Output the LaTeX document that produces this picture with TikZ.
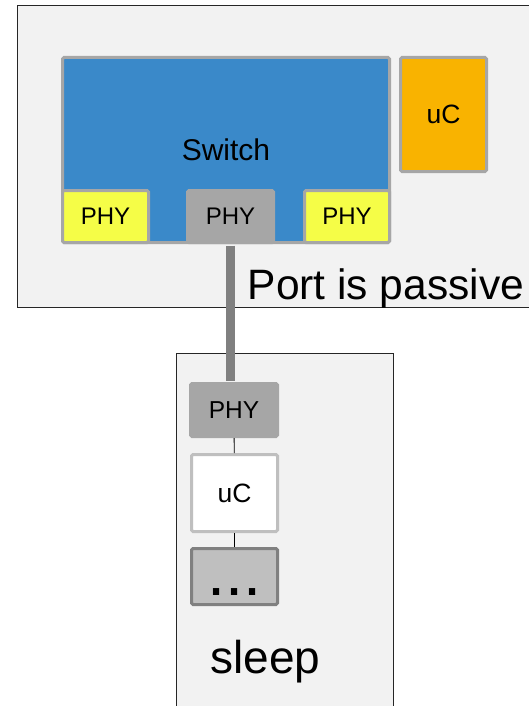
\documentclass[tikz,border=0pt]{standalone}
\usepackage{fontspec}
\setmainfont{Liberation Sans}
\usetikzlibrary{positioning, calc}

\definecolor{boardgray}{HTML}{F2F2F2}
\definecolor{swblue}{HTML}{3A89C9}
\definecolor{chipgray}{HTML}{A6A6A6}
\definecolor{ucorange}{HTML}{F9B300}
\definecolor{phyyellow}{HTML}{F5FD47}
\definecolor{busgray}{HTML}{808080}
\definecolor{lightgray}{HTML}{BFBFBF}

\newcommand{\fsz}[1]{\fontsize{#1}{#1}\selectfont}

\begin{document}
\begin{tikzpicture}[
    x=1pt, y=-1pt,
    board/.style={draw=black!85, line width=1pt, fill=boardgray, inner sep=0pt, anchor=north west},
    chip/.style={draw=chipgray, line width=3pt, rounded corners=1.5pt, inner sep=2pt, font=\fsz{24}},
    phy/.style={chip, fill=phyyellow, minimum width=86pt, minimum height=52pt},
    phyact/.style={phy, fill=chipgray},
    bus/.style={busgray, line width=9pt, shorten <=1.5pt, shorten >=1.5pt},
    wire/.style={black, line width=0.9pt},
    caption/.style={inner sep=0pt, anchor=base west},
]
\useasboundingbox (0,0) rectangle (529,706);
\clip (0,0) rectangle (529,706);

% ── Boards ──
\node[board, minimum width=530pt, minimum height=302pt] (swBoard) at (17,5) {};
\node[board, minimum width=217pt, minimum height=370pt] (devBoard) at (175.5,353) {};

% ── Switch side ──
\node[chip, fill=swblue, minimum width=327pt, minimum height=185pt, font=\fsz{30}] (switch) at (226,150) {Switch};
\node[chip, fill=ucorange, minimum width=86pt, minimum height=114pt, font=\fsz{26.5}] (uCSw) at (443.5,114.5) {uC};
\node[phy] (phyA) at (105.5,216.5) {PHY};
\node[phyact] (phyB) at (230.5,216.5) {PHY};
\node[phy, minimum width=85pt] (phyC) at (347,216.5) {PHY};

% ── Device side ──
\node[phyact, minimum width=87pt, minimum height=53pt, font=\fsz{24.5}] (phyDev) at (234,410) {PHY};
\node[chip, draw=lightgray, fill=white, minimum width=86pt, minimum height=77pt, font=\fsz{26.5}] (uCDev) at (234.5,493) {uC};
\node[chip, draw=busgray, fill=lightgray, minimum width=86pt, minimum height=56pt,
      text height=38pt, text depth=0pt, font=\fsz{65}] (dotsDev) at (234.5,576.5) {...};

% ── Links ──
\draw[bus] (phyB.south) -- (phyB.south |- phyDev.north);
\draw[wire] (phyDev) -- (uCDev);
\draw[wire] (uCDev) -- (dotsDev);

% ── Labels ──
\node[caption, font=\fsz{42.5}] (portLbl) at (247.5,299) {Port is passive};
\node[caption, font=\fsz{46}] (sleepLbl) at (210.4,673) {sleep};

\end{tikzpicture}
\end{document}
